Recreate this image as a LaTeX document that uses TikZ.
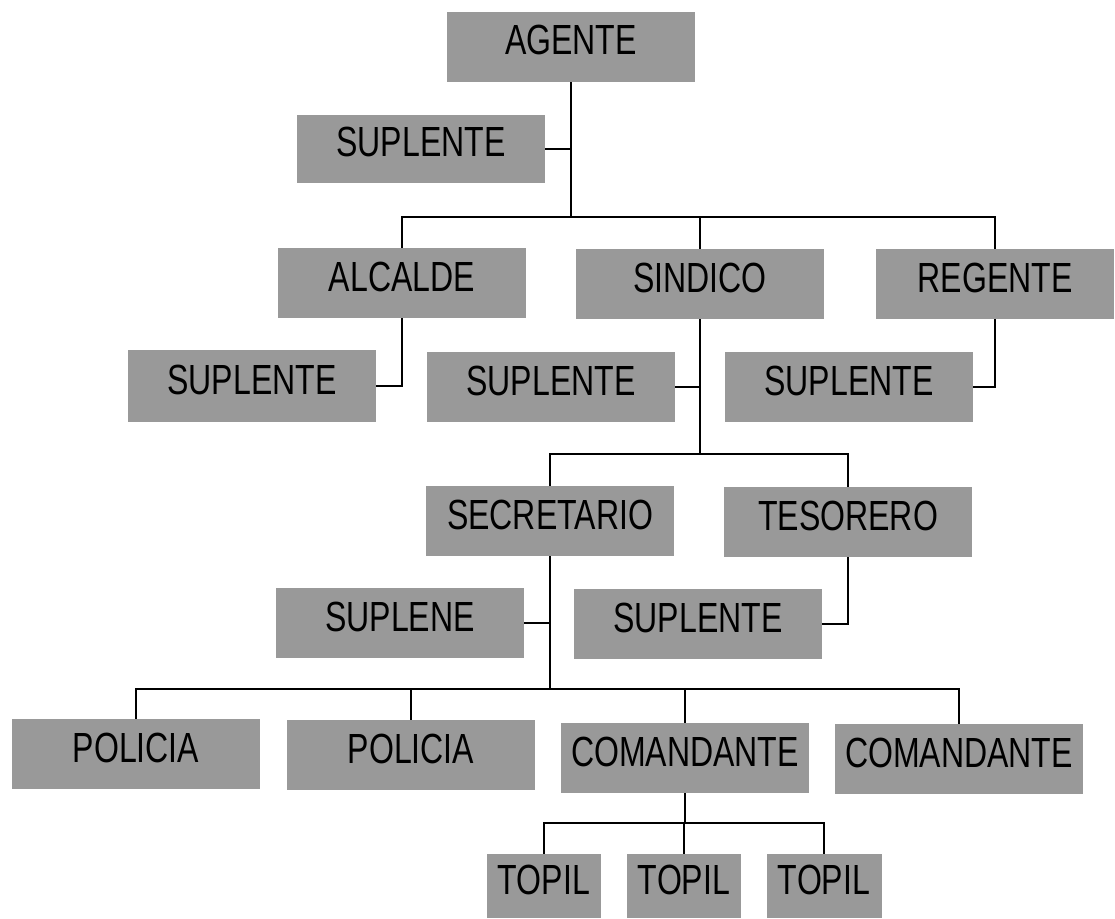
\documentclass[tikz,border=0pt]{standalone}
\usepackage{fontspec}
\setmainfont{Liberation Sans}[FakeStretch=0.76]

\begin{document}
\begin{tikzpicture}[x=0.02cm, y=-0.02cm,
    cargo/.style={fill=black!40, minimum width=4.96cm, minimum height=1.4cm,
      inner sep=0pt, text height=0.6cm, text depth=0.28cm,
      font=\fontsize{24}{28}\selectfont},
    chico/.style={cargo, minimum width=2.3cm, minimum height=1.28cm},
    linea/.style={line width=1.1pt}]
  \useasboundingbox (0,0) rectangle (1115,919);

  % niveles de las barras horizontales
  \coordinate (nivel1) at (0,217);
  \coordinate (nivel2) at (0,454);
  \coordinate (nivel3) at (0,689);
  \coordinate (nivel4) at (0,823);

  % agente y su suplente
  \node[cargo] (agente) at (571,47) {AGENTE};
  \node[cargo, minimum height=1.36cm] (sup0) at (421,149) {SUPLENTE};

  % alcalde, sindico, regente
  \node[cargo] (alcalde) at (402,283) {ALCALDE};
  \node[cargo] (sindico) at (700,284) {SINDICO};
  \node[cargo, minimum width=4.76cm] (regente) at (995,284) {REGENTE};

  % suplentes del segundo nivel
  \node[cargo, minimum height=1.44cm] (supA) at (252,386) {SUPLENTE};
  \node[cargo] (supS) at (551,387) {SUPLENTE};
  \node[cargo] (supR) at (849,387) {SUPLENTE};

  % secretario y tesorero
  \node[cargo] (secretario) at (550,521) {SECRETARIO};
  \node[cargo] (tesorero) at (848,522) {TESORERO};
  \node[cargo] (suplene) at (400,623) {SUPLENE};
  \node[cargo] (supT) at (698,624) {SUPLENTE};

  % policias y comandantes
  \node[cargo] (policia1) at (136,754) {POLICIA};
  \node[cargo] (policia2) at (411,755) {POLICIA};
  \node[cargo] (comandante1) at (685,758) {COMANDANTE};
  \node[cargo] (comandante2) at (959,759) {COMANDANTE};

  % topiles
  \node[chico] (topil1) at (544,886) {TOPIL};
  \node[chico] (topil2) at (684,886) {TOPIL};
  \node[chico] (topil3) at (824,886) {TOPIL};

  % lineas del agente
  \draw[linea] (agente.south) -- (agente.south |- nivel1);
  \draw[linea] (sup0.east) -- (sup0.east -| agente.south);
  \draw[linea] (alcalde.north) |- (nivel1 -| regente.north) -- (regente.north);
  \draw[linea] (sindico.north) -- (sindico.north |- nivel1);

  % lineas a los suplentes
  \draw[linea] (alcalde.south) |- (supA.east);
  \draw[linea] (regente.south) |- (supR.east);
  \draw[linea] (sindico.south) -- (sindico.south |- nivel2);
  \draw[linea] (supS.east) -- (supS.east -| sindico.south);

  % lineas del sindico
  \draw[linea] (secretario.north) |- (nivel2 -| tesorero.north) -- (tesorero.north);
  \draw[linea] (tesorero.south) |- (supT.east);
  \draw[linea] (secretario.south) -- (secretario.south |- nivel3);
  \draw[linea] (suplene.east) -- (suplene.east -| secretario.south);

  % lineas del secretario
  \draw[linea] (policia1.north) |- (nivel3 -| comandante2.north) -- (comandante2.north);
  \draw[linea] (policia2.north) -- (policia2.north |- nivel3);
  \draw[linea] (comandante1.north) -- (comandante1.north |- nivel3);

  % lineas del comandante
  \draw[linea] (comandante1.south) -- (comandante1.south |- nivel4);
  \draw[linea] (topil1.north) |- (nivel4 -| topil3.north) -- (topil3.north);
  \draw[linea] (topil2.north) -- (topil2.north |- nivel4);
\end{tikzpicture}
\end{document}
